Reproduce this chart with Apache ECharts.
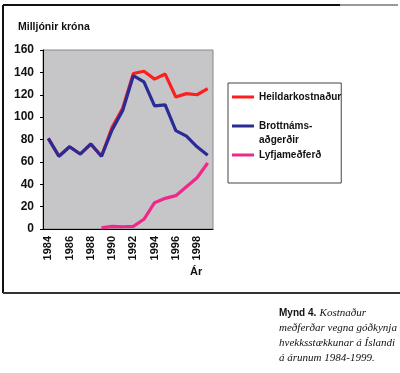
<!DOCTYPE html>
<html><head><meta charset="utf-8">
<script src="https://cdn.jsdelivr.net/npm/echarts@6/dist/echarts.min.js"></script>
<style>html,body{margin:0;padding:0;background:#fff}#c{width:400px;height:373px}</style>
</head><body><div id="c"></div>
<script>
var years = ['1984','1985','1986','1987','1988','1989','1990','1991','1992','1993','1994','1995','1996','1997','1998','1999'];
var heildar = [81,65,73.5,67,76,65,91,108,139,141,134,138.5,118,121,120,125.5];
var brottnam = [81,65,73.5,67,76,65,88.5,106,137,131.5,110,111,88,83,73.5,66];
var lyfja = [null,null,null,null,null,1,2.4,2,2.4,8.7,23.5,27.4,29.8,37.8,45.8,59];
var yTicks = [0,20,40,60,80,100,120,140,160];
var names = ['Heildarkostnaður','Brottnámsaðgerðir','Lyfjameðferð'];
var legendLabels = {'Heildarkostnaður':'Heildarkostnaður','Brottnámsaðgerðir':' \nBrottnáms-\naðgerðir','Lyfjameðferð':'Lyfjameðferð'};
var colors = ['#ff1e1e','#2b2b96','#f0288c'];

var chart = echarts.init(document.getElementById('c'), null, {renderer:'canvas'});
var ff = '"Liberation Sans", Arial, sans-serif';
chart.setOption({
  animation:false,
  backgroundColor:'#fff',
  grid:{left:43,right:187,top:50,bottom:144,show:true,backgroundColor:'#c6c6c9',borderColor:'#888',borderWidth:1},
  legend:{
    orient:'vertical',left:228,top:83,
    padding:[7,0,21,4],itemGap:1,
    borderColor:'#444',borderWidth:1,
    itemWidth:22,itemHeight:3,icon:'rect',itemStyle:{borderWidth:0},
    data:names,
    formatter:function(n){return legendLabels[n];},
    textStyle:{fontFamily:ff,fontWeight:'bold',fontSize:10,color:'#111',lineHeight:14}
  },
  xAxis:{
    type:'category',data:years,boundaryGap:true,
    axisLine:{lineStyle:{color:'#000',width:1}},
    axisTick:{interval:0,length:4,lineStyle:{color:'#000'}},
    axisLabel:{interval:1,rotate:90,margin:7,fontFamily:ff,fontWeight:'bold',fontSize:11,color:'#111'},
    splitLine:{show:false}
  },
  yAxis:{
    type:'value',min:0,max:160,interval:20,
    axisLine:{show:true,lineStyle:{color:'#000',width:1}},
    axisTick:{show:true,length:3,lineStyle:{color:'#000'}},
    axisLabel:{margin:9,fontFamily:ff,fontWeight:'bold',fontSize:12,color:'#111',
      formatter:function(v){return yTicks.indexOf(v)>=0?String(v):'';}},
    splitLine:{show:false}
  },
  series:[
    {name:names[0],type:'line',data:heildar,symbol:'none',lineStyle:{color:colors[0],width:3.2},itemStyle:{color:colors[0]},z:2},
    {name:names[1],type:'line',data:brottnam,symbol:'none',lineStyle:{color:colors[1],width:3.2},itemStyle:{color:colors[1]},z:3},
    {name:names[2],type:'line',data:lyfja,symbol:'none',lineStyle:{color:colors[2],width:3.2},itemStyle:{color:colors[2]},z:4}
  ],
  graphic:[
    {type:'line',shape:{x1:3,y1:5,x2:340,y2:5},style:{stroke:'#111',lineWidth:2}},
    {type:'line',shape:{x1:340,y1:5,x2:398,y2:5},style:{stroke:'#999',lineWidth:2}},
    {type:'line',shape:{x1:3,y1:5,x2:3,y2:293},style:{stroke:'#111',lineWidth:2}},
    {type:'line',shape:{x1:3,y1:293,x2:400,y2:293},style:{stroke:'#333',lineWidth:2}},
    {type:'text',left:18,top:22,style:{text:'Milljónir króna',font:'bold 10.5px '+ff,fill:'#111'}},
    {type:'text',left:190,top:266,style:{text:'Ár',font:'bold 11px '+ff,fill:'#111'}},
    {type:'text',left:279,top:306,style:{
      text:'{b|Mynd 4.} {i|Kostnaður}\n{i|meðferðar vegna góðkynja}\n{i|hvekksstækkunar á Íslandi}\n{i|á árunum 1984-1999.}',
      rich:{b:{font:'bold 10px '+ff,fill:'#111',lineHeight:15},i:{font:'italic 11px "Liberation Serif", "Times New Roman", serif',fill:'#111',lineHeight:15}},
      lineHeight:15}}
  ]
});
</script></body></html>
